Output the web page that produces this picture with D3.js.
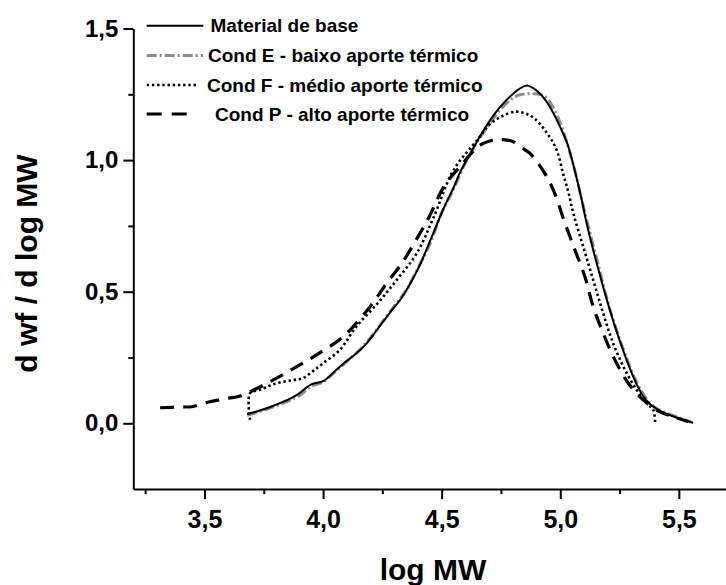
<!DOCTYPE html>
<html>
<head>
<meta charset="utf-8">
<script src="https://cdn.jsdelivr.net/npm/d3@7"></script>
<style>
  html, body { margin: 0; padding: 0; background: #fff; }
  svg { display: block; }
  text { font-family: "Liberation Sans", Arial, Helvetica, sans-serif; font-weight: bold; fill: #000; }
</style>
</head>
<body>
<svg id="chart" width="726" height="585"></svg>
<script>
// ---- Data (log MW, d wf / d log MW) ----
const seriesNames = [
  "Material de base",
  "Cond E - baixo aporte térmico",
  "Cond F - médio aporte térmico",
  "Cond P - alto aporte térmico"
];

const materialBase = [
  [3.68,0.035],[3.72,0.045],[3.78,0.063],[3.84,0.085],[3.89,0.108],[3.95,0.148],
  [4.00,0.160],[4.05,0.198],[4.09,0.230],[4.14,0.265],[4.18,0.300],[4.23,0.358],
  [4.28,0.418],[4.33,0.475],[4.37,0.535],[4.41,0.605],[4.45,0.690],[4.51,0.820],
  [4.55,0.895],[4.58,0.958],[4.63,1.040],[4.68,1.118],[4.72,1.172],[4.77,1.225],
  [4.83,1.272],[4.86,1.283],[4.90,1.264],[4.94,1.225],[4.97,1.180],[5.00,1.125],
  [5.03,1.062],[5.06,0.965],[5.09,0.850],[5.11,0.765],[5.15,0.620],[5.20,0.458],
  [5.24,0.342],[5.28,0.240],[5.32,0.152],[5.36,0.090],[5.41,0.052],[5.48,0.025],
  [5.56,0.002]
];

const condE = [
  [3.68,0.030],[3.75,0.050],[3.84,0.080],[3.90,0.105],[3.95,0.140],[4.00,0.157],
  [4.05,0.195],[4.10,0.235],[4.15,0.275],[4.20,0.325],[4.25,0.385],[4.30,0.445],
  [4.35,0.505],[4.40,0.590],[4.45,0.680],[4.50,0.800],[4.55,0.890],[4.60,0.990],
  [4.65,1.070],[4.70,1.135],[4.75,1.195],[4.80,1.235],[4.83,1.248],[4.93,1.245],
  [4.97,1.200],[5.00,1.140],[5.03,1.060],[5.06,0.965],[5.09,0.852],[5.12,0.742],
  [5.16,0.602],[5.20,0.462],[5.24,0.347],[5.28,0.247],[5.32,0.160],[5.36,0.097],
  [5.40,0.060],[5.46,0.035],[5.52,0.015],[5.55,0.005]
];

const condF = [
  [3.692,0.013],[3.692,0.114],[3.734,0.127],[3.78,0.145],[3.832,0.158],[3.88,0.165],
  [3.917,0.172],[3.96,0.200],[4.00,0.228],[4.07,0.278],[4.14,0.367],[4.23,0.456],
  [4.31,0.544],[4.395,0.646],[4.465,0.780],[4.55,0.962],[4.65,1.076],[4.70,1.133],
  [4.75,1.165],[4.81,1.184],[4.85,1.178],[4.89,1.159],[4.94,1.108],[4.985,1.038],
  [5.013,0.945],[5.034,0.880],[5.055,0.798],[5.097,0.671],[5.139,0.544],[5.181,0.418],
  [5.223,0.304],[5.273,0.203],[5.322,0.127],[5.364,0.076],[5.392,0.051],[5.40,0.0]
];

const condP = [
  [3.313,0.059],[3.40,0.062],[3.446,0.063],[3.523,0.082],[3.60,0.095],[3.65,0.104],
  [3.77,0.155],[3.889,0.215],[3.994,0.272],[4.085,0.329],[4.198,0.443],[4.268,0.532],
  [4.332,0.608],[4.388,0.690],[4.444,0.779],[4.51,0.900],[4.577,0.975],[4.662,1.057],
  [4.718,1.076],[4.76,1.078],[4.802,1.070],[4.85,1.040],[4.872,1.026],[4.929,0.958],
  [4.971,0.886],[5.020,0.760],[5.062,0.658],[5.104,0.557],[5.139,0.443],[5.181,0.342],
  [5.231,0.240],[5.287,0.152],[5.350,0.089],[5.420,0.044],[5.477,0.025],[5.540,0.006]
];

const xTicks = [3.5, 4.0, 4.5, 5.0, 5.5];
const xMinorTicks = [3.25, 3.75, 4.25, 4.75, 5.25];
const yTicks = [0.0, 0.5, 1.0, 1.5];
const yMinorTicks = [0.25, 0.75, 1.25];
const xTitle = "log MW";
const yTitle = "d wf / d log MW";

// ---- Layout ----
const svg = d3.select("#chart");
const x = d3.scaleLinear().domain([3.2, 5.7]).range([133.3, 726.3]);
const y = d3.scaleLinear().domain([-0.25, 1.5]).range([489.1, 28.5]);
const fmt = v => d3.format(".1f")(v).replace(".", ",");

// Axes
const xAxisG = svg.append("g").attr("transform", `translate(0,${y(-0.25)})`)
  .call(d3.axisBottom(x).tickValues(xTicks).tickSize(10).tickSizeOuter(0).tickPadding(11).tickFormat(fmt));
svg.append("g").attr("transform", `translate(0,${y(-0.25)})`)
  .call(d3.axisBottom(x).tickValues(xMinorTicks).tickSize(5).tickSizeOuter(0).tickFormat(""))
  .select(".domain").remove();

const yAxisG = svg.append("g").attr("transform", `translate(${x(3.2)},0)`)
  .call(d3.axisLeft(y).tickValues(yTicks).tickSize(10).tickSizeOuter(0).tickPadding(5).tickFormat(fmt));
svg.append("g").attr("transform", `translate(${x(3.2)},0)`)
  .call(d3.axisLeft(y).tickValues(yMinorTicks).tickSize(5).tickSizeOuter(0).tickFormat(""))
  .select(".domain").remove();

svg.selectAll(".domain").attr("stroke", "#000").attr("stroke-width", 2);
svg.selectAll(".tick line").attr("stroke", "#000").attr("stroke-width", 2);
xAxisG.selectAll(".tick text").attr("font-size", 25).attr("font-family", null).attr("fill", "#000");
yAxisG.selectAll(".tick text").attr("font-size", 24).attr("font-family", null).attr("fill", "#000");

// Titles
svg.append("text").attr("x", 433).attr("y", 580).attr("text-anchor", "middle")
  .attr("font-size", 30).text(xTitle);
svg.append("text").attr("transform", "translate(36.5,263.5) rotate(-90)")
  .attr("text-anchor", "middle").attr("font-size", 30).text(yTitle);

// Lines
const line = d3.line().x(d => x(d[0])).y(d => y(d[1])).curve(d3.curveCatmullRom.alpha(0.5));

const styles = [
  { data: materialBase, stroke: "#000", width: 2, dash: null, cap: "butt" },
  { data: condE, stroke: "#8c8c8c", width: 3, dash: "10 3 2 3", cap: "butt" },
  { data: condF, stroke: "#000", width: 2.6, dash: "2.4 2.8", cap: "butt" },
  { data: condP, stroke: "#000", width: 3.2, dash: "14 9", cap: "butt" }
];

// Draw order: E (gray) under, then solid, dotted, dashed
[1, 0, 2, 3].forEach(i => {
  const s = styles[i];
  svg.append("path").datum(s.data)
    .attr("d", line).attr("fill", "none")
    .attr("stroke", s.stroke).attr("stroke-width", s.width)
    .attr("stroke-dasharray", s.dash).attr("stroke-linecap", s.cap)
    .attr("stroke-linejoin", "round");
});

// Legend
const legendRows = [25.7, 55.5, 85, 114];
const legendLineX = [[146.7, 203.3], [146.7, 203], [146.7, 198], [146.7, 187]];
const legendTextX = [210.5, 208, 207, 215];
seriesNames.forEach((name, i) => {
  const s = styles[i];
  svg.append("line")
    .attr("x1", legendLineX[i][0]).attr("x2", legendLineX[i][1])
    .attr("y1", legendRows[i]).attr("y2", legendRows[i])
    .attr("stroke", s.stroke).attr("stroke-width", s.width)
    .attr("stroke-dasharray", i === 3 ? "15 10" : s.dash);
  svg.append("text").attr("x", legendTextX[i]).attr("y", legendRows[i]).attr("dy", "0.35em")
    .attr("font-size", 19).text(name);
});
</script>
</body>
</html>
